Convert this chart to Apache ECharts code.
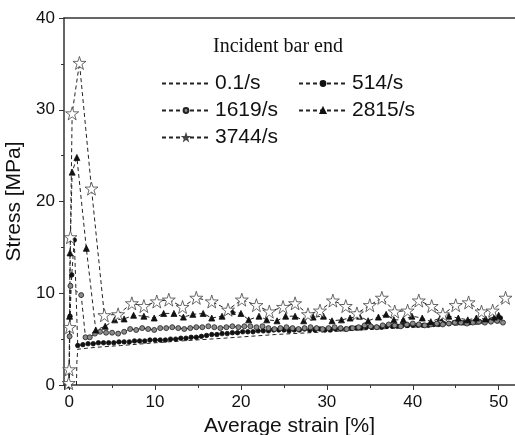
<!DOCTYPE html>
<html>
<head>
<meta charset="utf-8">
<script src="https://cdn.jsdelivr.net/npm/echarts@6/dist/echarts.min.js"></script>
<style>
html,body{margin:0;padding:0;background:#fff;}
#main{width:515px;height:435px;}
</style>
</head>
<body>
<div id="main"></div>
<script>
// stress-strain, incident bar end
var names = ['0.1/s', '514/s', '1619/s', '2815/s', '3744/s'];

var s01 = [[0.85,0],[0.9,2.5],[1.0,3.9],[3,4.1],[6,4.3],[10,4.6],[13,4.8],[18,5.1],[24,5.5],[30,5.8],[36,6.1],[42,6.4],[47,6.6],[50.5,6.8]];

var s514 = [[0,0],[0.1,7.5],[0.3,12.0],[0.6,15.8],[1.0,4.3],[1.6,4.4],[2.2,4.5],[2.8,4.5],[3.4,4.6],[4.0,4.6],[4.6,4.6],[5.2,4.6],[5.8,4.7],
  [6.4,4.7],[7.0,4.7],[7.6,4.8],[8.2,4.8],[8.8,4.8],[9.4,4.9],[10.0,4.9],[10.6,4.9],[11.2,4.9],[11.8,5.0],[12.4,5.0],[13.0,5.1],
  [13.6,5.1],[14.2,5.2],[14.8,5.2],[15.4,5.3],[16.0,5.4],[16.6,5.5],[17.2,5.5],[17.8,5.6],[18.4,5.6],[19.0,5.7],[19.6,5.7],[20.2,5.8],
  [20.8,5.8],[21.4,5.8],[22.0,5.9],[22.6,5.9],[23.2,5.9],[23.8,6.0],[24.4,6.0],[25.0,6.0],[25.6,5.9],[26.2,6.0],[26.8,6.0],[27.4,6.1],
  [28.0,6.0],[28.6,6.0],[29.2,6.1],[29.8,6.0],[30.4,6.0],[31.0,6.1],[31.6,6.1],[32.2,6.1],[32.8,6.2],[33.4,6.2],[34.0,6.2],[34.6,6.3],
  [35.2,6.3],[35.8,6.3],[36.4,6.3],[37.0,6.4],[37.6,6.4],[38.2,6.4],[38.8,6.5],[39.4,6.5],[40.0,6.5],[40.6,6.5],[41.2,6.5],[41.8,6.5],
  [42.4,6.6],[43.0,6.6],[43.6,6.7],[44.2,6.7],[44.8,6.8],[45.4,6.8],[46.0,6.8],[46.6,6.8],[47.2,6.9],[47.8,6.9],[48.4,7.0],[49.0,7.0],
  [49.6,7.1],[50.2,7.3]];

var s1619 = [[0,0],[0.05,5.3],[0.15,10.8],[1.4,9.8],[1.9,5.2],[2.4,5.2],[3.0,5.6],[3.6,5.8],[4.3,5.7],[5.0,5.7],[5.7,5.6],[6.4,5.8],
  [7.1,6.1],[7.8,6.0],[8.5,6.2],[9.2,6.1],[9.9,6.0],[10.6,6.2],[11.3,6.2],[12.0,6.3],[12.7,6.2],[13.4,6.1],[14.1,6.2],[14.8,6.3],
  [15.5,6.3],[16.2,6.4],[16.9,6.3],[17.6,6.2],[18.3,6.3],[19.0,6.4],[19.7,6.3],[20.4,6.4],[21.1,6.4],[21.8,6.3],[22.5,6.4],[23.2,6.2],
  [23.9,6.1],[24.6,6.2],[25.3,6.3],[26.0,6.2],[26.7,6.1],[27.4,6.2],[28.1,6.3],[28.8,6.2],[29.5,6.1],[30.2,6.2],[30.9,6.3],[31.6,6.2],
  [32.3,6.1],[33.0,6.2],[33.7,6.3],[34.4,6.5],[35.1,6.4],[35.8,6.3],[36.5,6.5],[37.2,6.6],[37.9,6.5],[38.6,6.4],[39.3,6.6],[40.0,6.7],
  [40.7,6.6],[41.4,6.5],[42.1,6.6],[42.8,6.7],[43.5,6.6],[44.2,6.7],[44.9,6.8],[45.6,6.8],[46.3,6.7],[47.0,6.8],[47.7,6.9],[48.4,6.8],
  [49.1,6.9],[49.8,7.0],[50.5,6.8]];

var s2815 = [[0,0],[0.05,7.5],[0.1,14.4],[0.35,23.2],[0.9,24.8],[2.0,14.9],[3.1,6.0],[4.2,6.4],[5.3,7.1],[6.4,7.2],[7.5,7.6],[8.7,7.5],
  [9.9,7.3],[11.0,7.8],[12.2,7.8],[13.3,7.4],[14.4,7.7],[15.6,7.8],[16.6,7.3],[17.8,7.5],[19.0,8.0],[20.0,7.8],[20.9,7.1],[22.1,7.5],
  [23.0,7.1],[24.2,7.0],[25.2,7.5],[26.3,7.5],[27.3,7.0],[28.4,7.4],[29.6,7.5],[30.6,7.0],[31.7,7.1],[32.7,7.3],[33.8,7.5],[34.8,7.0],
  [36.0,7.4],[36.9,7.7],[37.8,7.1],[38.9,7.1],[39.9,7.5],[41.1,7.3],[42.1,6.9],[43.2,7.3],[44.2,7.5],[45.3,7.3],[46.4,7.1],[47.4,7.3],
  [48.5,7.2],[49.5,7.4],[50.0,7.6]];

var s3744 = [[-0.05,0.2],[0,1.7],[0.05,6.3],[0.15,16.1],[0.35,29.6],[1.2,35.1],[2.6,21.4],[4.1,7.6],[5.7,7.7],[7.3,8.9],[8.7,8.6],
  [10.2,9.1],[11.6,9.3],[13.2,8.5],[14.8,9.5],[16.6,9.1],[18.5,8.2],[20.1,9.3],[21.8,8.7],[23.3,8.0],[24.9,8.5],[26.3,8.9],[27.8,7.7],
  [29.2,8.1],[30.7,9.2],[32.2,8.6],[33.5,7.8],[35.0,8.7],[36.4,9.5],[37.9,8.0],[39.4,8.1],[40.7,9.2],[42.2,8.6],[43.5,7.7],[45.0,8.7],
  [46.5,9.0],[48.0,8.0],[49.3,8.1],[50.8,9.5]];

var starPath = 'path://M50,2 L61,36 L97,36 L68,57 L79,92 L50,71 L21,92 L32,57 L3,36 L39,36 Z';
var dash = [4, 3];
var sans = 'Liberation Sans, Arial, sans-serif';

var myChart = echarts.init(document.getElementById('main'));

function lineSeries(name, data, symbol, size, fill, border) {
	return {
		name: name,
		type: 'line',
		data: data,
		symbol: symbol,
		symbolSize: size,
		showSymbol: symbol !== 'none',
		lineStyle: {color: '#222', width: 1, type: dash},
		itemStyle: {color: fill, borderColor: border, borderWidth: 0.8},
		z: 2
	};
}

var legendText = {fontFamily: sans, fontSize: 21, color: '#111', lineHeight: 21};

var option = {
	animation: false,
	backgroundColor: '#fff',
	title: {
		text: 'Incident bar end',
		left: 213, top: 37, padding: 0,
		textStyle: {fontFamily: 'Liberation Serif, Times New Roman, serif', fontWeight: 'normal', fontSize: 20, color: '#111'}
	},
	legend: [{
		data: [{name: '0.1/s', itemStyle: {opacity: 0}}, '1619/s', '3744/s'],
		orient: 'vertical',
		left: 161, top: 73, padding: 0,
		itemWidth: 48, itemHeight: 6, itemGap: 6,
		textStyle: legendText
	}, {
		data: ['514/s', '2815/s'],
		orient: 'vertical',
		left: 298, top: 73, padding: 0,
		itemWidth: 48, itemHeight: 6, itemGap: 6,
		textStyle: legendText
	}],
	grid: {left: 64, right: 0, top: 18, bottom: 50, outerBoundsMode: 'none', containLabel: false},
	xAxis: [{
		type: 'value',
		min: -0.6, max: 51.9,
		splitNumber: 5,
		name: 'Average strain [%]',
		nameLocation: 'middle',
		nameGap: 24,
		nameTextStyle: {fontFamily: sans, fontSize: 21, color: '#111'},
		axisLine: {onZero: false, lineStyle: {color: '#333', width: 1.5}},
		axisTick: {inside: false, length: 5, lineStyle: {color: '#333'}},
		minorTick: {show: true, splitNumber: 2, length: 3, lineStyle: {color: '#333'}},
		axisLabel: {fontFamily: sans, fontSize: 17, color: '#111', margin: 9, showMinLabel: false, showMaxLabel: false},
		splitLine: {show: false}
	}, {
		type: 'value',
		position: 'top',
		min: -0.6, max: 51.9,
		axisLine: {onZero: false, lineStyle: {color: '#333', width: 1.5}},
		axisTick: {show: false},
		axisLabel: {show: false},
		splitLine: {show: false}
	}],
	yAxis: {
		type: 'value',
		min: 0, max: 40, interval: 10,
		name: 'Stress [MPa]',
		nameLocation: 'middle',
		nameGap: 27,
		nameTextStyle: {fontFamily: sans, fontSize: 21, color: '#111'},
		axisLine: {show: true, onZero: false, lineStyle: {color: '#333', width: 1.5}},
		axisTick: {show: true, inside: false, length: 5, lineStyle: {color: '#333'}},
		minorTick: {show: true, splitNumber: 2, length: 3, lineStyle: {color: '#333'}},
		axisLabel: {fontFamily: sans, fontSize: 17, color: '#111', margin: 9},
		splitLine: {show: false}
	},
	series: [
		lineSeries(names[0], s01, 'none', 0, '#222', '#222'),
		lineSeries(names[1], s514, 'circle', 4.5, '#111', '#111'),
		lineSeries(names[2], s1619, 'circle', 5, '#8a8a8a', '#222'),
		lineSeries(names[3], s2815, 'triangle', 6, '#111', '#111'),
		lineSeries(names[4], s3744, starPath, 13, '#fff', '#444')
	]
};
myChart.setOption(option);
</script>
</body>
</html>
